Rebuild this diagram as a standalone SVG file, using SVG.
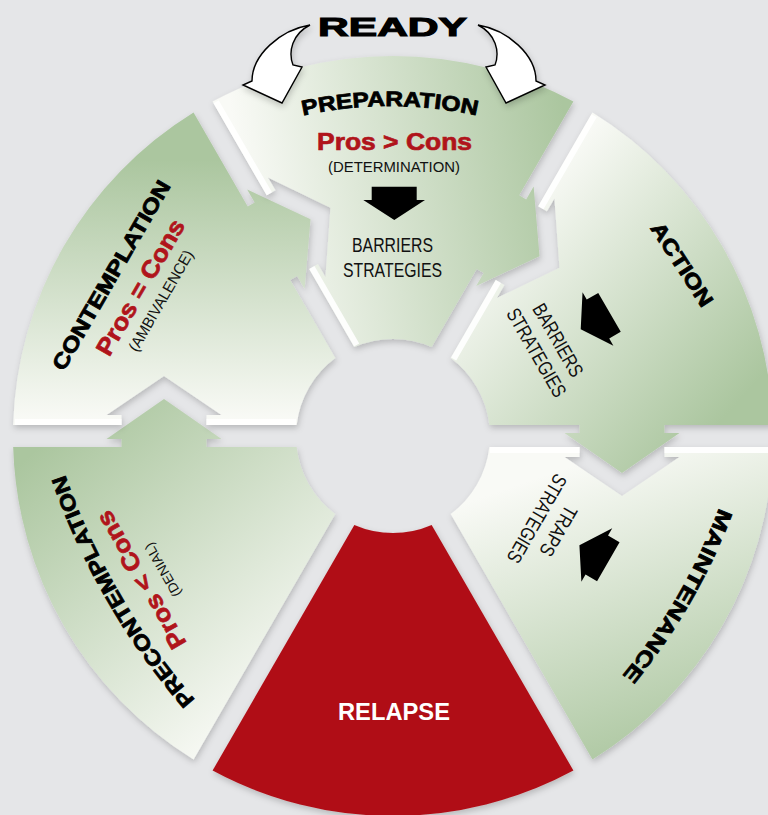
<svg xmlns="http://www.w3.org/2000/svg" width="768" height="815" viewBox="0 0 768 815">
<style>
.title{font-family:"Liberation Sans",Arial,sans-serif;font-weight:bold;font-size:21px;fill:#000;stroke:#000;stroke-width:0.8}
.red{font-family:"Liberation Sans",Arial,sans-serif;font-weight:bold;font-size:24px;fill:#b0141b;stroke:#b0141b;stroke-width:0.7}
.small{font-family:"Liberation Sans",Arial,sans-serif;font-size:15.5px;fill:#111}
.mid{font-family:"Liberation Sans",Arial,sans-serif;font-size:20px;fill:#111}
.ready{fill:#fff;stroke:#000;stroke-width:1.4;stroke-linejoin:miter}
.hl{fill:none;stroke:#fff;stroke-width:6;stroke-opacity:0.9}
</style>
<defs>
<filter id="sh" x="-15%" y="-15%" width="130%" height="130%">
<feDropShadow dx="1" dy="3" stdDeviation="3" flood-color="#000" flood-opacity="0.2"/>
</filter>
<linearGradient id="gC" gradientUnits="userSpaceOnUse" x1="-193" y1="-276" x2="-193" y2="-16">
<stop offset="0" stop-color="#abc69f"/><stop offset="1" stop-color="#f9faf6"/></linearGradient>
<linearGradient id="gP" gradientUnits="userSpaceOnUse" x1="-306.9" y1="-0.5" x2="-187.7" y2="-307">
<stop offset="0" stop-color="#f9faf6"/><stop offset="1" stop-color="#abc69f"/></linearGradient>
<linearGradient id="gA" gradientUnits="userSpaceOnUse" x1="-267.9" y1="8" x2="-204.7" y2="-282.5">
<stop offset="0" stop-color="#f9faf6"/><stop offset="1" stop-color="#abc69f"/></linearGradient>
<linearGradient id="gM" gradientUnits="userSpaceOnUse" x1="-167" y1="-34" x2="-267" y2="-324">
<stop offset="0" stop-color="#f9faf6"/><stop offset="1" stop-color="#abc69f"/></linearGradient>
<linearGradient id="gPC" gradientUnits="userSpaceOnUse" x1="-363" y1="19" x2="-133" y2="284">
<stop offset="0" stop-color="#abc69f"/><stop offset="1" stop-color="#f9faf6"/></linearGradient>
<path id="segArrow" d="M-379.84,-11 A380,380 0 0 1 -199.45,-323.45 L-145.28,-229.62 L-138.35,-233.62 L-145.85,-246.61 L-82.46,-216.81 L-88.35,-147.02 L-95.85,-160.01 L-102.78,-156.01 L-57.71,-77.96 A97,97 0 0 0 -96.37,-11 L-186.5,-11 L-186.5,-21 L-171.5,-21 L-229,-60 L-286.5,-21 L-271.5,-21 L-271.5,-11 Z"/>
<path id="notchEdge" d="M-378,-14 L-271.5,-14 M-186.5,-14 L-97,-14"/>
<polygon id="barr" points="371.7,186.7 416.7,186.7 416.7,200 425,200 394.3,220 363.3,200 371.7,200" fill="#000"/>
<path id="arcPrep" d="M132.9,199.6 A400,400 0 0 1 647.1,199.6"/>
<path id="arcMaint" d="M736.7,452.8 A592.5,592.5 0 0 1 583.4,718.5"/>
<path id="arcPre" d="M229.5,736.7 A692.5,692.5 0 0 1 50.3,426.2"/>
<path id="readyArrow" d="M310,25 C280,30 252,55 252,81 L243,85 L282,103 L302,67 L293,65 C288,52 292,34 310,25 Z"/>
</defs>
<rect width="768" height="815" fill="#e5e6e8"/>

<g id="precontemplation">
<g filter="url(#sh)"><path transform="translate(393,436)" fill="url(#gPC)" d="M-199.45,323.45 A380,380 0 0 1 -379.84,11 L-271.5,11 L-271.5,3 L-286.5,3 L-229,-37 L-171.5,3 L-186.5,3 L-186.5,11 L-96.37,11 A97,97 0 0 0 -57.71,77.96 Z"/></g>
<text class="title"><textPath href="#arcPre" startOffset="50%" text-anchor="middle" textLength="262" lengthAdjust="spacingAndGlyphs">PRECONTEMPLATION</textPath></text>
<text class="red" transform="translate(148.2,575.8) rotate(-120)" text-anchor="middle" textLength="155" lengthAdjust="spacingAndGlyphs">Pros &lt; Cons</text>
<text class="small" style="font-size:13.5px" transform="translate(166.8,567.5) rotate(-120)" text-anchor="middle" textLength="60" lengthAdjust="spacingAndGlyphs">(DENIAL)</text>
</g>

<g id="contemplation">
<g filter="url(#sh)"><use href="#segArrow" fill="url(#gC)" transform="translate(393,436)"/></g>
<use href="#notchEdge" class="hl" transform="translate(393,436)"/>
<text class="title" transform="translate(117.5,278.8) rotate(-60)" text-anchor="middle" textLength="215" lengthAdjust="spacingAndGlyphs">CONTEMPLATION</text>
<text class="red" transform="translate(147.4,291.3) rotate(-60)" text-anchor="middle" textLength="153" lengthAdjust="spacingAndGlyphs">Pros = Cons</text>
<text class="small" transform="translate(165.5,303.4) rotate(-60)" text-anchor="middle" textLength="114" lengthAdjust="spacingAndGlyphs">(AMBIVALENCE)</text>
</g>

<g id="preparation">
<g filter="url(#sh)"><use href="#segArrow" fill="url(#gP)" transform="translate(393,436) rotate(60)"/></g>
<use href="#notchEdge" class="hl" transform="translate(393,436) rotate(60)"/>
<text class="title"><textPath href="#arcPrep" startOffset="50%" text-anchor="middle" textLength="175" lengthAdjust="spacingAndGlyphs">PREPARATION</textPath></text>
<text class="red" x="394.5" y="150" text-anchor="middle" textLength="155" lengthAdjust="spacingAndGlyphs">Pros &gt; Cons</text>
<text class="small" x="394" y="172" text-anchor="middle" textLength="132" lengthAdjust="spacingAndGlyphs">(DETERMINATION)</text>
<use href="#barr"/>
<text class="mid" x="392.5" y="252" text-anchor="middle" textLength="81" lengthAdjust="spacingAndGlyphs">BARRIERS</text>
<text class="mid" x="392.5" y="277" text-anchor="middle" textLength="99" lengthAdjust="spacingAndGlyphs">STRATEGIES</text>
</g>

<g id="action">
<g filter="url(#sh)"><use href="#segArrow" fill="url(#gA)" transform="translate(393,436) rotate(120)"/></g>
<use href="#notchEdge" class="hl" transform="translate(393,436) rotate(120)"/>
<text class="title" transform="translate(676,268.3) rotate(57)" text-anchor="middle" textLength="96" lengthAdjust="spacingAndGlyphs">ACTION</text>
<g transform="rotate(60 393 436)">
<use href="#barr"/>
<text class="mid" x="392.5" y="252" text-anchor="middle" textLength="81" lengthAdjust="spacingAndGlyphs">BARRIERS</text>
<text class="mid" x="392.5" y="277" text-anchor="middle" textLength="99" lengthAdjust="spacingAndGlyphs">STRATEGIES</text>
</g>
</g>

<g id="maintenance">
<g filter="url(#sh)"><path transform="translate(393,436) rotate(180)" fill="url(#gM)" d="M-379.84,-11 A380,380 0 0 1 -199.45,-323.45 L-57.71,-77.96 A97,97 0 0 0 -96.37,-11 L-186.5,-11 L-186.5,-21 L-171.5,-21 L-229,-60 L-286.5,-21 L-271.5,-21 L-271.5,-11 Z"/></g>
<use href="#notchEdge" class="hl" transform="translate(393,436) rotate(180)"/>
<text class="title"><textPath href="#arcMaint" startOffset="50%" text-anchor="middle" textLength="195" lengthAdjust="spacingAndGlyphs">MAINTENANCE</textPath></text>
<g transform="rotate(120 393 436)">
<use href="#barr"/>
<text class="mid" x="392.5" y="252" text-anchor="middle" textLength="55" lengthAdjust="spacingAndGlyphs">TRAPS</text>
<text class="mid" x="392.5" y="277" text-anchor="middle" textLength="99" lengthAdjust="spacingAndGlyphs">STRATEGIES</text>
</g>
</g>

<g id="relapse">
<g filter="url(#sh)"><path transform="translate(393,436) rotate(240)" fill="#b01118" d="M-379.84,-11 A380,380 0 0 1 -199.45,-323.45 L-57.71,-77.96 A97,97 0 0 0 -96.37,-11 Z"/></g>
<text x="394" y="720" text-anchor="middle" font-family="Liberation Sans, Arial, sans-serif" font-weight="bold" font-size="23.5" fill="#fff" textLength="112" lengthAdjust="spacingAndGlyphs">RELAPSE</text>
</g>

<g id="ready">
<text x="392.5" y="36" text-anchor="middle" font-family="Liberation Sans, Arial, sans-serif" font-weight="bold" font-size="26.5" fill="#000" stroke="#000" stroke-width="1.1" textLength="149" lengthAdjust="spacingAndGlyphs">READY</text>
</g>

<g id="connectors" filter="url(#sh)">
<use href="#readyArrow" class="ready"/>
<use href="#readyArrow" class="ready" transform="matrix(-1 0 0 1 788 0)"/>
</g>
</svg>
